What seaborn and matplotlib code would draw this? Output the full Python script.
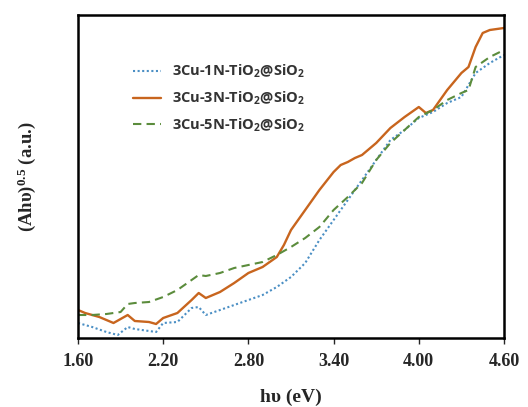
import matplotlib
matplotlib.use('Agg')
import numpy as np
import pandas as pd
import matplotlib.pyplot as plt
import seaborn as sns

# ---- data (arbitrary units) ----
x_1n = [1.60, 1.70, 1.80, 1.88, 1.95, 2.00, 2.10, 2.15, 2.20, 2.30, 2.40, 2.45, 2.50,
        2.60, 2.70, 2.80, 2.90, 3.00, 3.10, 3.20, 3.30, 3.40, 3.50, 3.60, 3.70, 3.80,
        3.90, 4.00, 4.10, 4.20, 4.30, 4.40, 4.50, 4.60]
y_1n = [15, 11, 6, 3, 11, 9, 7, 6, 15, 16, 30, 31, 23,
        28, 33, 38, 43, 51, 61, 75, 98, 118, 138, 158, 178, 198,
        208, 220, 226, 235, 241, 265, 275, 283]

x_3n = [1.60, 1.65, 1.75, 1.85, 1.95, 2.00, 2.10, 2.15, 2.20, 2.30, 2.40, 2.45, 2.50,
        2.60, 2.70, 2.80, 2.90, 3.00, 3.05, 3.10, 3.20, 3.30, 3.40, 3.45, 3.50, 3.55,
        3.60, 3.70, 3.80, 3.90, 4.00, 4.05, 4.10, 4.20, 4.30, 4.35, 4.40, 4.45, 4.50, 4.60]
y_3n = [28, 25, 21, 15, 23, 17, 16, 14, 20, 25, 38, 45, 40,
        46, 55, 65, 71, 81, 93, 108, 128, 148, 166, 173, 176, 180,
        183, 195, 210, 221, 231, 225, 228, 248, 265, 271, 291, 305, 308, 310]

x_5n = [1.60, 1.70, 1.80, 1.90, 1.95, 2.00, 2.10, 2.20, 2.30, 2.40, 2.45, 2.50,
        2.60, 2.70, 2.80, 2.90, 3.00, 3.10, 3.20, 3.30, 3.40, 3.50, 3.60, 3.70,
        3.80, 3.90, 4.00, 4.10, 4.20, 4.30, 4.35, 4.40, 4.50, 4.60]
y_5n = [23, 23, 24, 26, 34, 35, 36, 41, 48, 58, 63, 62,
        65, 70, 73, 76, 83, 91, 100, 111, 128, 141, 155, 178,
        195, 208, 221, 228, 238, 245, 248, 271, 281, 288]

labels = ['3Cu-1N-TiO$_2$@SiO$_2$', '3Cu-3N-TiO$_2$@SiO$_2$', '3Cu-5N-TiO$_2$@SiO$_2$']
colors = ['#4b8fc4', '#c8651e', '#5b8c3c']
styles = [(0, (1, 1.2)), '-', (0, (4, 2.5))]
xticks = [1.60, 2.20, 2.80, 3.40, 4.00, 4.60]

sns.set_style('white')
plt.rcParams['font.family'] = ['Liberation Serif', 'DejaVu Serif']
plt.rcParams['mathtext.fontset'] = 'custom'
plt.rcParams['mathtext.rm'] = 'Open Sans:bold'
plt.rcParams['mathtext.it'] = 'Open Sans:bold'
plt.rcParams['mathtext.bf'] = 'Liberation Serif:bold'

fig = plt.figure(figsize=(5.28, 4.07), dpi=100)
ax = fig.add_axes([78 / 528, 69 / 407, 426 / 528, 323 / 407])

series = [(x_1n, y_1n), (x_3n, y_3n), (x_5n, y_5n)]
for (xs, ys), lab, c, ls in zip(series, labels, colors, styles):
    sns.lineplot(x=xs, y=ys, ax=ax, color=c, linestyle=ls, linewidth=1.7 if ls == '-' else 1.5,
                 label=lab)

ax.set_xlim(1.60, 4.60)
ax.set_ylim(0, 323)
ax.set_xticks(xticks)
ax.set_xticklabels([f'{t:.2f}' for t in xticks], fontsize=13, fontweight='bold')
ax.set_yticks([])
ax.tick_params(axis='x', direction='out', length=4, width=1, pad=7, bottom=True)
for s in ax.spines.values():
    s.set_linewidth(1.8)
    s.set_color('black')

ax.set_xlabel('h\u03c5 (eV)', fontsize=14, fontweight='bold')
ax.xaxis.set_label_coords(0.5, -0.183)
ax.xaxis.label.set_va('center')
ax.set_ylabel('(Ah\u03c5)' + r'$\mathbf{^{0.5}}$' + ' (a.u.)', fontsize=13.5, fontweight='bold')
ax.yaxis.set_label_coords(-0.12, 0.5)
ax.yaxis.label.set_va('center')

leg = ax.legend(loc='upper left', bbox_to_anchor=(0.115, 0.87), frameon=False,
                handlelength=1.9, handletextpad=0.8, labelspacing=0.65, borderaxespad=0,
                prop={'family': 'Open Sans', 'size': 10.5, 'weight': 'bold'})
for t in leg.get_texts():
    t.set_color('#333333')

fig.savefig('out.png', dpi=100)
